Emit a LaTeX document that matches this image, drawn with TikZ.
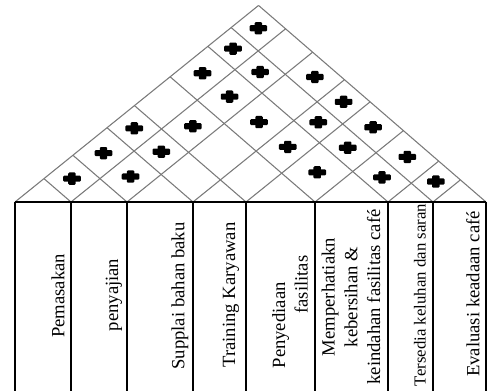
\documentclass[tikz,border=0pt]{standalone}
\usepackage{fontspec}
\setmainfont{Liberation Serif}
\usetikzlibrary{calc}
\definecolor{RoofGray}{HTML}{7A7A7A}
\tikzset{
  roofline/.style={draw=RoofGray, line width=0.8pt},
  frameline/.style={draw=black, line width=0.8pt},
  plusmark/.style={inner sep=0pt, minimum width=14pt, minimum height=10pt,
    path picture={
      \fill[black, rounded corners=0.8pt]
        ([xshift=-6.6pt, yshift=-2.3pt]path picture bounding box.center) rectangle
        ([xshift=6.6pt, yshift=2.3pt]path picture bounding box.center);
      \fill[black, rounded corners=0.8pt]
        ([xshift=-2.8pt, yshift=-4.6pt]path picture bounding box.center) rectangle
        ([xshift=2.8pt, yshift=4.6pt]path picture bounding box.center);
    }},
  req/.style={rotate=90, inner sep=0pt, font=\fontsize{14}{17}\selectfont, align=center}
}

\begin{document}
\begin{tikzpicture}[x=0.75pt, y=-0.75pt]
  \useasboundingbox (0,0) rectangle (487,391);
  \def\bx{{15,71,127,193,246,315,388,433,486}}
  % column feet and roof crossings
  \foreach \k in {0,...,8}{
    \pgfmathsetmacro\xk{\bx[\k]}
    \coordinate (f-\k) at (\xk,391);
    \foreach \m in {\k,...,8}{
      \pgfmathsetmacro\xm{\bx[\m]}
      \coordinate (q-\k-\m) at ({\xk+0.5171*(\xm-\xk)}, {202-0.4173*(\xm-\xk)});
    }
  }
  % roof
  \foreach \k in {0,...,7} \draw[roofline] (q-\k-\k) -- (q-\k-8);
  \foreach \m in {1,...,8} \draw[roofline] (q-\m-\m) -- (q-0-\m);
  % columns
  \draw[frameline] (q-0-0) -- (q-8-8);
  \foreach \k in {0,...,8} \draw[frameline] (q-\k-\k) -- (f-\k);
  % correlations
  \foreach \i/\j in {1/2,1/3,1/4,1/6,1/7,1/8,2/3,2/4,2/5,2/6,2/7,3/6,3/8,
                     4/6,4/7,4/8,5/6,5/7,5/8,6/7,6/8,7/8}{
    \pgfmathtruncatemacro\ia{\i-1}
    \pgfmathtruncatemacro\jb{\j-1}
    \node[plusmark] (p-\i-\j) at ($(q-\i-\jb)!0.5!(q-\ia-\j)$) {};
  }
  % technical responses
  \node[req] (lbl-1) at (58,296) {Pemasakan};
  \node[req] (lbl-2) at (114,295) {penyajian};
  \node[req] (lbl-3) at (180,296) {Supplai bahan baku};
  \node[req] (lbl-4) at (231,295) {Training Karyawan};
  \node[req, align=left] (lbl-5) at (290,312) {Penyediaan\\\hspace*{41pt}fasilitas};
  \node[req] (lbl-6) at (351,297) {Memperhatiakn\\kebersihan \&\\keindahan fasilitas café};
  \node[req, font=\fontsize{12.6}{15}\selectfont] (lbl-7) at (420,295) {Tersedia keluhan dan saran};
  \node[req] (lbl-8) at (473,294) {Evaluasi keadaan café};
\end{tikzpicture}
\end{document}
